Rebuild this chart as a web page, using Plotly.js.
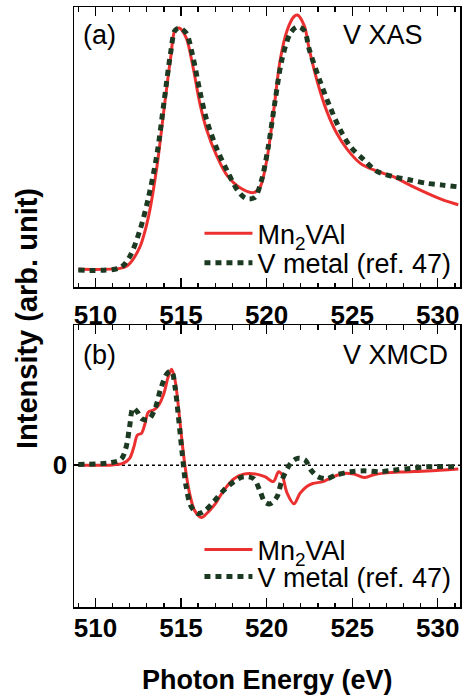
<!DOCTYPE html>
<html>
<head>
<meta charset="utf-8">
<script src="https://cdn.plot.ly/plotly-3.0.1.min.js"></script>
<style>html,body{margin:0;padding:0;background:#fff;}#chart{width:466px;height:698px;}</style>
</head>
<body>
<div id="chart"></div>
<script>
// ---- Data ----
// (a) V XAS
const xasMnE = [509, 511.44, 511.9, 512.6, 513.1, 513.6, 514.0, 514.4, 514.65, 514.9, 515.3, 515.7, 516.1, 516.5, 517.1, 517.7, 518.45, 519.2, 519.6, 520.0, 520.4, 520.8, 521.2, 521.6, 521.8, 522.2, 522.5, 523.0, 523.5, 524.1, 524.7, 525.5, 526.4, 527.4, 528.4, 529.4, 530.3, 531.2];
const xasMnI = [0.003, 0.007, 0.02, 0.096, 0.22, 0.43, 0.66, 0.88, 0.99, 1.0, 0.96, 0.84, 0.69, 0.58, 0.47, 0.39, 0.34, 0.32, 0.34, 0.45, 0.65, 0.87, 0.99, 1.047, 1.054, 1.01, 0.91, 0.77, 0.66, 0.565, 0.50, 0.44, 0.41, 0.386, 0.35, 0.317, 0.29, 0.27];
const xasVE = [509, 511.44, 512.0, 512.6, 513.1, 513.6, 514.0, 514.4, 514.65, 514.9, 515.3, 515.7, 516.1, 516.5, 517.1, 517.7, 518.3, 518.8, 519.3, 519.7, 520.1, 520.5, 520.9, 521.4, 521.8, 522.2, 522.5, 523.1, 523.7, 524.3, 524.9, 525.7, 526.4, 527.4, 528.4, 529.4, 530.3, 531.2];
const xasVI = [0.0, 0.01, 0.055, 0.165, 0.30, 0.48, 0.69, 0.90, 0.99, 1.0, 0.98, 0.88, 0.74, 0.62, 0.50, 0.41, 0.33, 0.296, 0.30, 0.37, 0.51, 0.70, 0.87, 0.98, 1.005, 0.99, 0.91, 0.785, 0.675, 0.58, 0.51, 0.455, 0.41, 0.386, 0.372, 0.358, 0.351, 0.344];
// (b) V XMCD
const xmcdMnE = [509, 510.85, 511.6, 512.0, 512.25, 512.45, 512.7, 512.9, 513.1, 513.4, 513.7, 514.0, 514.25, 514.45, 514.65, 514.85, 515.05, 515.24, 515.5, 515.8, 516.2, 516.5, 517.0, 517.5, 518.1, 518.65, 519.4, 519.9, 520.4, 520.7, 520.9, 521.2, 521.6, 521.96, 522.35, 522.7, 523.3, 523.9, 524.5, 525.1, 525.7, 526.25, 527.0, 528.0, 529.4, 531.2];
const xmcdMnI = [0, 0, 0.017, 0.07, 0.19, 0.31, 0.33, 0.43, 0.55, 0.57, 0.62, 0.74, 0.91, 0.99, 0.88, 0.60, 0.26, -0.017, -0.29, -0.47, -0.54, -0.50, -0.40, -0.26, -0.14, -0.093, -0.093, -0.12, -0.17, -0.069, -0.10, -0.29, -0.40, -0.29, -0.22, -0.19, -0.17, -0.12, -0.086, -0.093, -0.128, -0.10, -0.08, -0.07, -0.06, -0.04];
const xmcdVE = [509, 510.85, 511.5, 511.8, 512.0, 512.2, 512.45, 512.7, 513.1, 513.5, 513.8, 514.2, 514.45, 514.65, 514.85, 515.05, 515.3, 515.6, 516.0, 516.4, 516.9, 517.5, 518.1, 518.65, 519.25, 519.6, 519.9, 520.2, 520.6, 520.9, 521.4, 521.8, 522.25, 522.6, 523.0, 523.5, 524.1, 524.9, 525.7, 526.6, 527.4, 528.4, 529.4, 531.2];
const xmcdVI = [0.007, 0.024, 0.06, 0.19, 0.40, 0.59, 0.55, 0.48, 0.47, 0.59, 0.78, 0.95, 0.97, 0.81, 0.50, 0.155, -0.22, -0.43, -0.50, -0.47, -0.38, -0.26, -0.17, -0.12, -0.14, -0.26, -0.38, -0.40, -0.33, -0.155, 0.017, 0.07, 0.052, -0.052, -0.12, -0.14, -0.10, -0.069, -0.059, -0.069, -0.052, -0.034, -0.017, -0.017];
const seriesNames = ['Mn<sub>2</sub>VAl', 'V metal (ref. 47)'];
const xTickVals = [510, 515, 520, 525, 530];
const xTickText = ['510', '515', '520', '525', '530'];
const yTickVals = [0];
const yTickText = ['0'];

// ---- Styles ----
const RED = '#ec3030';
const GREEN = '#1c3a22';
const FONT = 'Liberation Sans, Arial, Helvetica, sans-serif';
const redLine = {color: RED, width: 3, shape: 'spline', smoothing: 0.9};
const greenLine = {color: GREEN, width: 5, dash: '6px,5px', shape: 'spline', smoothing: 0.9};

const traces = [
  {x: xasMnE, y: xasMnI, name: seriesNames[0], mode: 'lines', line: redLine, xaxis: 'x', yaxis: 'y', legend: 'legend'},
  {x: xasVE, y: xasVI, name: seriesNames[1], mode: 'lines', line: greenLine, xaxis: 'x', yaxis: 'y', legend: 'legend2'},
  {x: xmcdMnE, y: xmcdMnI, name: seriesNames[0], mode: 'lines', line: redLine, xaxis: 'x2', yaxis: 'y2', legend: 'legend3'},
  {x: xmcdVE, y: xmcdVI, name: seriesNames[1], mode: 'lines', line: greenLine, xaxis: 'x2', yaxis: 'y2', legend: 'legend4'}
];

function xAxis(domAnchor, standoff) {
  return {
    anchor: domAnchor, range: [508.75, 531.3], tickmode: 'array', tickvals: xTickVals, ticktext: xTickText,
    ticks: 'inside', ticklen: 9, tickwidth: 1.3, tickcolor: '#000',
    minor: {dtick: 1, tick0: 510, ticks: 'inside', ticklen: 4.5, tickwidth: 1.3, tickcolor: '#000'},
    showline: true, linecolor: '#000', linewidth: 1.5, mirror: 'allticks',
    showgrid: false, zeroline: false, ticklabelstandoff: standoff,
    tickfont: {family: FONT, size: 26, color: '#000', weight: 'bold'}
  };
}
const legendBase = {xanchor: 'left', yanchor: 'middle', bgcolor: 'rgba(0,0,0,0)', borderwidth: 0,
  font: {family: FONT, size: 27, color: '#000'}, itemwidth: 48, tracegroupgap: 0};

const layout = {
  width: 466, height: 698,
  margin: {l: 74, r: 6, t: 7, b: 91},
  paper_bgcolor: '#fff', plot_bgcolor: '#fff',
  showlegend: true,
  xaxis: xAxis('y', 4),
  xaxis2: xAxis('y2', -3),
  yaxis: {domain: [0.5333, 1], range: [-0.07, 1.087], showticklabels: false, ticks: '',
    showline: true, linecolor: '#000', linewidth: 1.5, mirror: true, showgrid: false, zeroline: false},
  yaxis2: {domain: [0, 0.47], range: [-1.466, 1.448], tickmode: 'array', tickvals: yTickVals, ticktext: yTickText,
    ticks: 'inside', ticklen: 5, tickwidth: 1.3, tickcolor: '#000',
    showline: true, linecolor: '#000', linewidth: 1.5, mirror: true, showgrid: false, zeroline: false,
    tickfont: {family: FONT, size: 26, color: '#000', weight: 'bold'}},
  legend: Object.assign({}, legendBase, {x: 0.325, y: 0.622}),
  legend2: Object.assign({}, legendBase, {x: 0.325, y: 0.573}),
  legend3: Object.assign({}, legendBase, {x: 0.325, y: 0.095}),
  legend4: Object.assign({}, legendBase, {x: 0.325, y: 0.05}),
  shapes: [
    {type: 'line', xref: 'x2 domain', yref: 'y2', x0: 0, x1: 1, y0: 0, y1: 0,
     line: {color: '#000', width: 1.5, dash: '3px,3px'}, layer: 'below'}
  ],
  annotations: [
    {text: '(a)', xref: 'paper', yref: 'paper', x: (81 - 74) / 386, y: (607 - 35) / 600, xanchor: 'left', yanchor: 'middle', showarrow: false, font: {family: FONT, size: 27, color: '#000'}},
    {text: 'V XAS', xref: 'paper', yref: 'paper', x: (341 - 74) / 386, y: (607 - 35) / 600, xanchor: 'left', yanchor: 'middle', showarrow: false, font: {family: FONT, size: 27, color: '#000'}},
    {text: '(b)', xref: 'paper', yref: 'paper', x: (81 - 74) / 386, y: (607 - 355) / 600, xanchor: 'left', yanchor: 'middle', showarrow: false, font: {family: FONT, size: 27, color: '#000'}},
    {text: 'V XMCD', xref: 'paper', yref: 'paper', x: (341 - 74) / 386, y: (607 - 355) / 600, xanchor: 'left', yanchor: 'middle', showarrow: false, font: {family: FONT, size: 27, color: '#000'}},
    {text: 'Intensity (arb. unit)', xref: 'paper', yref: 'paper', x: (27 - 74) / 386, y: (607 - 319) / 600, xanchor: 'center', yanchor: 'middle', textangle: -90, showarrow: false, font: {family: FONT, size: 29, color: '#000', weight: 'bold'}},
    {text: 'Photon Energy (eV)', xref: 'paper', yref: 'paper', x: (267 - 74) / 386, y: (607 - 680) / 600, xanchor: 'center', yanchor: 'middle', showarrow: false, font: {family: FONT, size: 27, color: '#000', weight: 'bold'}}
  ]
};

Plotly.newPlot('chart', traces, layout, {displayModeBar: false, staticPlot: true});
</script>
</body>
</html>
